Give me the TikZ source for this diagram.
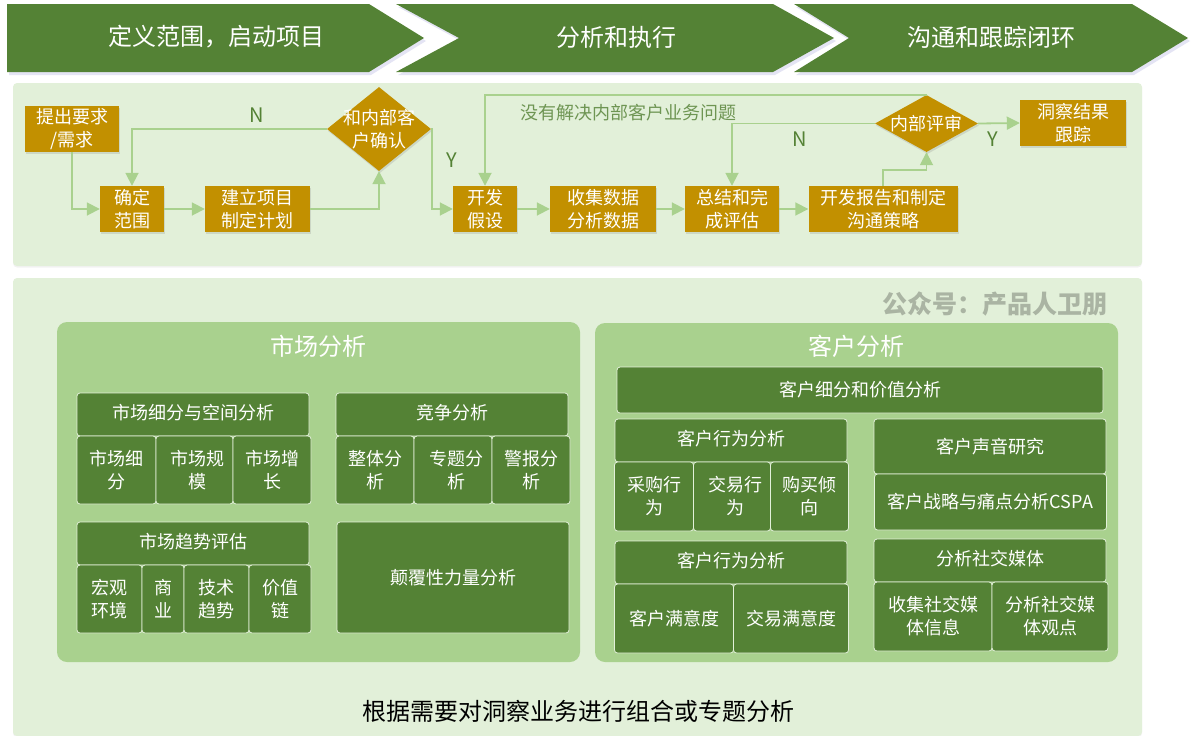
\documentclass[tikz,border=0pt]{standalone}
\usepackage{fontspec}
\usepackage{xcolor}
\setmainfont{Noto Sans CJK SC}
\usetikzlibrary{arrows.meta,shapes.geometric,shadows}
\definecolor{darkgreen}{HTML}{548235}
\definecolor{midgreen}{HTML}{A9D18E}
\definecolor{palegreen}{HTML}{E2F0D9}
\definecolor{gold}{HTML}{C29000}
\newcommand{\nudge}{\hspace*{6pt}}
\tikzset{
  softshadow/.style={drop shadow={opacity=.22,fill=gray,shadow xshift=1pt,shadow yshift=-2pt}},
  phasefill/.style={fill=darkgreen,drop shadow={opacity=.15,fill=blue!40!gray,shadow xshift=2pt,shadow yshift=-3pt}},
  phasetext/.style={text=white,font=\fontsize{24}{28}\selectfont},
  panel/.style={fill=palegreen,rounded corners=4pt,drop shadow={opacity=.1,fill=gray,shadow xshift=0pt,shadow yshift=-1.5pt}},
  flowbox/.style={fill=gold,softshadow,text=white,inner sep=0pt,align=center,font=\fontsize{18}{23}\selectfont},
  decbox/.style={shape=diamond,fill=gold,inner sep=0pt,softshadow},
  flowtext/.style={text=white,inner sep=0pt,align=center,font=\fontsize{18}{23}\selectfont},
  flowarrow/.style={draw=midgreen,line width=1.8pt,-{Triangle[length=13pt,width=13pt]}},
  flowlabel/.style={text=darkgreen,inner sep=0pt,font=\fontsize{20}{24}\selectfont},
  issuelabel/.style={text=darkgreen!85!white,inner sep=0pt,font=\fontsize{18}{22}\selectfont},
  group/.style={fill=midgreen,rounded corners=10pt},
  grouptitle/.style={text=white,inner sep=0pt,font=\fontsize{24}{28}\selectfont},
  cellbox/.style={fill=darkgreen,draw=palegreen,line width=.8pt,rounded corners=3pt,text=white,inner sep=0pt,align=center,font=\fontsize{18}{23}\selectfont},
  headbox/.style={cellbox,minimum width=232,minimum height=43,text depth=6pt}
}
\begin{document}
\begin{tikzpicture}[x=1pt,y=-1pt]
\useasboundingbox (0,0) rectangle (1197,736);
% phases
\fill[phasefill] (7,4) -- (369,4) -- (424,38) -- (369,72) -- (7,72) -- cycle;
\fill[phasefill] (396,4) -- (773,4) -- (834,38) -- (773,72) -- (396,72) -- (459,38) -- cycle;
\fill[phasefill] (794,4) -- (1132,4) -- (1188,38) -- (1132,72) -- (794,72) -- (849,38) -- cycle;
\node[phasetext] (phaseA) at (216,37) {定义范围，启动项目};
\node[phasetext] (phaseB) at (616,37) {分析和执行};
\node[phasetext] (phaseC) at (991,37) {沟通和跟踪闭环};
\fill[panel] (13,83) rectangle (1142,266);
\fill[panel] (13,278) rectangle (1142,736);
% flow
\node[flowbox,minimum width=94,minimum height=46] (ask) at (72,129) {提出要求\\/需求};
\node[flowbox,minimum width=64,minimum height=46] (scope) at (132,209) {确定\\范围};
\node[flowbox,minimum width=105,minimum height=46] (plan) at (257.5,209) {建立项目\\制定计划};
\node[decbox,minimum width=104,minimum height=84,label={[flowtext]center:{和内部客\\户确认}}] (confirm) at (379,129) {};
\node[flowbox,minimum width=64,minimum height=46] (hypo) at (485,209) {开发\\假设};
\node[flowbox,minimum width=106,minimum height=46] (data) at (603,209) {收集数据\\分析数据};
\node[flowbox,minimum width=94,minimum height=46] (assess) at (732,209) {总结和完\\成评估};
\node[flowbox,minimum width=149,minimum height=46] (report) at (883,209) {开发报告和制定\\沟通策略};
\node[decbox,minimum width=103,minimum height=57,label={[flowtext]center:内部评审}] (review) at (926.5,123.5) {};
\node[flowbox,minimum width=106,minimum height=46] (track) at (1073,123) {洞察结果\\跟踪};
\draw[flowarrow] (ask.south) |- (scope.west);
\draw[flowarrow] (scope) -- (plan);
\draw[flowarrow] (plan.east) -| (confirm.south);
\draw[flowarrow] (confirm.west) -| (scope.north);
\draw[flowarrow] (confirm.east) -- ++(1,0) |- (hypo.west);
\draw[flowarrow] (hypo) -- (data);
\draw[flowarrow] (data) -- (assess);
\draw[flowarrow] (assess) -- (report);
\draw[flowarrow] (report.north) -- ++(0,-16) -| (review.south);
\draw[flowarrow] (review.north) -| (hypo.north);
\draw[flowarrow] (review.west) -| (assess.north);
\draw[flowarrow] (review.east) -- (track.west);
\node[flowlabel] (noA) at (257,115) {N};
\node[flowlabel] (yesA) at (452,160) {Y};
\node[flowlabel] (noB) at (800,139) {N};
\node[flowlabel] (yesB) at (993,139) {Y};
\node[issuelabel] (unsolved) at (628,113) {没有解决内部客户业务问题};
\node[inner sep=0pt,text=black!25!palegreen,font=\fontsize{25}{28}\selectfont\bfseries] (mark) at (995,304) {公众号：产品人卫朋};
% market analysis
\fill[group] (57,322) rectangle (580,662);
\node[grouptitle] (market) at (318,346) {市场分析};
\node[headbox] (segH) at (193,414.5) {市场细分与空间分析};
\node[cellbox,minimum width=79,minimum height=68] (segA) at (116.5,470) {市场细\\分};
\node[cellbox,minimum width=77,minimum height=68] (segB) at (194.5,470) {\nudge 市场规\\\nudge 模};
\node[cellbox,minimum width=78,minimum height=68] (segC) at (272,470) {市场增\\长};
\node[headbox] (compH) at (452,414.5) {竞争分析};
\node[cellbox,minimum width=78,minimum height=68] (compA) at (375,470) {整体分\\析};
\node[cellbox,minimum width=78,minimum height=68] (compB) at (453,470) {\nudge 专题分\\\nudge 析};
\node[cellbox,minimum width=78,minimum height=68] (compC) at (531,470) {警报分\\析};
\node[headbox] (trendH) at (193,543.5) {市场趋势评估};
\node[cellbox,minimum width=65,minimum height=68] (trendA) at (109.5,599) {宏观\\环境};
\node[cellbox,minimum width=42,minimum height=68] (trendB) at (163,599) {商\\业};
\node[cellbox,minimum width=65,minimum height=68] (trendC) at (216.5,599) {技术\\趋势};
\node[cellbox,minimum width=62,minimum height=68] (trendD) at (280,599) {价值\\链};
\node[cellbox,minimum width=232,minimum height=111] (disrupt) at (453,577.5) {颠覆性力量分析};
% customer analysis
\fill[group] (595,323) rectangle (1118,662);
\node[grouptitle] (customer) at (856,346) {客户分析};
\node[cellbox,minimum width=486,minimum height=46] (value) at (860,390) {客户细分和价值分析};
\node[headbox] (behavH) at (731,440.5) {客户行为分析};
\node[cellbox,minimum width=79,minimum height=69] (behavA) at (654,496.5) {采购行\\为};
\node[cellbox,minimum width=77,minimum height=69] (behavB) at (732,496.5) {\nudge 交易行\\\nudge 为};
\node[cellbox,minimum width=78,minimum height=69] (behavC) at (809.5,496.5) {购买倾\\向};
\node[headbox] (satisH) at (731,562.5) {客户行为分析};
\node[cellbox,minimum width=119,minimum height=69] (satisA) at (674,618.5) {客户满意度};
\node[cellbox,minimum width=115,minimum height=69] (satisB) at (791,618.5) {交易满意度};
\node[cellbox,minimum width=232,minimum height=55] (voice) at (990,446.5) {客户声音研究};
\node[cellbox,minimum width=232,minimum height=56] (cspa) at (990.5,502) {客户战略与痛点分析CSPA};
\node[headbox] (socialH) at (990,560.5) {分析社交媒体};
\node[cellbox,minimum width=118,minimum height=69] (socialA) at (933,616.5) {收集社交媒\\体信息};
\node[cellbox,minimum width=116,minimum height=69] (socialB) at (1050,616.5) {分析社交媒\\体观点};
\node[inner sep=0pt,text=black,font=\fontsize{24}{28}\selectfont] (bottom) at (578.5,711) {根据需要对洞察业务进行组合或专题分析};
\end{tikzpicture}
\end{document}
